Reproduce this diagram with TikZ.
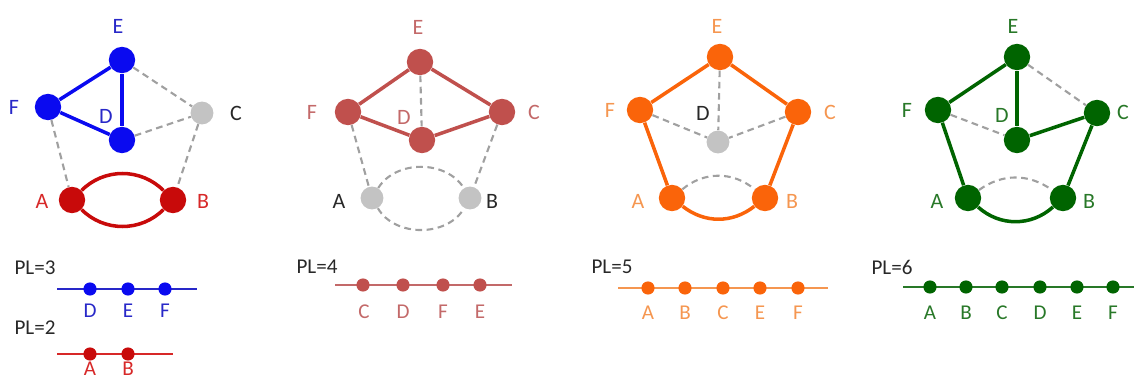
\documentclass[tikz,border=0pt]{standalone}
\usepackage{fontspec}
\setmainfont{Carlito}
\definecolor{cblue}{RGB}{10,10,240}
\definecolor{cbluel}{RGB}{40,40,200}
\definecolor{cred}{RGB}{200,10,10}
\definecolor{credl}{RGB}{215,40,40}
\definecolor{cgray}{RGB}{195,195,195}
\definecolor{cdash}{RGB}{160,160,160}
\definecolor{cbrick}{RGB}{192,80,77}
\definecolor{cbrickl}{RGB}{195,105,105}
\definecolor{corange}{RGB}{250,100,10}
\definecolor{corangel}{RGB}{245,150,80}
\definecolor{cgreen}{RGB}{0,100,0}
\definecolor{cgreenl}{RGB}{40,120,40}
\definecolor{ctext}{RGB}{40,40,40}
\tikzset{
  vtx/.style={circle,fill=#1,inner sep=0pt,minimum size=15pt},
  gvtx/.style={circle,fill=cgray,inner sep=0pt,minimum size=13pt},
  lbl/.style={text=#1,font=\fontsize{12.5pt}{14pt}\selectfont,inner sep=0pt},
  sedge/.style={draw=#1,line width=2pt},
  dedge/.style={draw=cdash,line width=1.2pt,dash pattern=on 3.8pt off 2.6pt},
  dot/.style={circle,fill=#1,inner sep=0pt,minimum size=7.5pt},
  pl/.style={text=ctext,font=\fontsize{12pt}{13pt}\selectfont,inner sep=0pt},
  bl/.style={text=#1,font=\fontsize{12pt}{13pt}\selectfont,inner sep=0pt},
  bline/.style={draw=#1,line width=1.7pt}
}
\begin{document}
\begin{tikzpicture}[x=0.02cm,y=-0.02cm]
\useasboundingbox (0,0) rectangle (1134,381);
% ---------- Panel 1 ----------
\node[vtx=cblue] (E1) at (122,60) {};
\node[vtx=cblue] (F1) at (48,107) {};
\node[vtx=cblue] (D1) at (122,140) {};
\node[gvtx] (C1) at (202,113) {};
\node[vtx=cred] (A1) at (72,200) {};
\node[vtx=cred] (B1) at (173,200) {};
\node[lbl=cbluel] (lE1) at (118,26) {E};
\node[lbl=cbluel] (lF1) at (14,107) {F};
\node[lbl=cbluel] (lD1) at (106,116) {D};
\node[lbl=ctext] (lC1) at (236,113) {C};
\node[lbl=credl] (lA1) at (42,201) {A};
\node[lbl=credl] (lB1) at (203,201) {B};
\draw[sedge=cblue] (E1) -- (F1);
\draw[sedge=cblue] (E1) -- (D1);
\draw[sedge=cblue] (F1) -- (D1);
\draw[dedge] (E1) -- (C1);
\draw[dedge] (D1) -- (C1);
\draw[dedge] (F1) -- (A1);
\draw[dedge] (C1) -- (B1);
\draw[sedge=cred] (A1) to[bend left=45] (B1);
\draw[sedge=cred] (A1) to[bend right=45] (B1);
% ---------- Panel 2 ----------
\node[vtx=cbrick] (E2) at (420,62) {};
\node[vtx=cbrick] (F2) at (348,112) {};
\node[vtx=cbrick] (D2) at (422,140) {};
\node[vtx=cbrick] (C2) at (502,112) {};
\node[gvtx] (A2) at (372,198) {};
\node[gvtx] (B2) at (470,198) {};
\node[lbl=cbrickl] (lE2) at (418,27) {E};
\node[lbl=cbrickl] (lF2) at (312,112) {F};
\node[lbl=cbrickl] (lD2) at (404,117) {D};
\node[lbl=cbrickl] (lC2) at (534,112) {C};
\node[lbl=ctext] (lA2) at (339,201) {A};
\node[lbl=ctext] (lB2) at (492,201) {B};
\draw[sedge=cbrick] (E2) -- (F2);
\draw[sedge=cbrick] (F2) -- (D2);
\draw[sedge=cbrick] (D2) -- (C2);
\draw[sedge=cbrick] (C2) -- (E2);
\draw[dedge] (E2) -- (D2);
\draw[dedge] (F2) -- (A2);
\draw[dedge] (C2) -- (B2);
\draw[dedge] (A2) to[bend left=58] (B2);
\draw[dedge] (A2) to[bend right=60] (B2);
% ---------- Panel 3 ----------
\node[vtx=corange] (E3) at (720,57) {};
\node[vtx=corange] (F3) at (640,110) {};
\node[gvtx] (D3) at (718,142) {};
\node[vtx=corange] (C3) at (798,112) {};
\node[vtx=corange] (A3) at (672,198) {};
\node[vtx=corange] (B3) at (765,198) {};
\node[lbl=corangel] (lE3) at (717,26) {E};
\node[lbl=corangel] (lF3) at (610,110) {F};
\node[lbl=ctext] (lD3) at (703,113) {D};
\node[lbl=corangel] (lC3) at (830,112) {C};
\node[lbl=corangel] (lA3) at (638,201) {A};
\node[lbl=corangel] (lB3) at (792,201) {B};
\draw[sedge=corange] (E3) -- (F3);
\draw[sedge=corange] (E3) -- (C3);
\draw[sedge=corange] (F3) -- (A3);
\draw[sedge=corange] (C3) -- (B3);
\draw[sedge=corange] (A3) to[bend right=38] (B3);
\draw[dedge] (E3) -- (D3);
\draw[dedge] (F3) -- (D3);
\draw[dedge] (C3) -- (D3);
\draw[dedge] (A3) to[bend left=40] (B3);
% ---------- Panel 4 ----------
\node[vtx=cgreen] (E4) at (1017,57) {};
\node[vtx=cgreen] (F4) at (938,110) {};
\node[vtx=cgreen] (D4) at (1017,140) {};
\node[vtx=cgreen] (C4) at (1097,113) {};
\node[vtx=cgreen] (A4) at (968,198) {};
\node[vtx=cgreen] (B4) at (1063,198) {};
\node[lbl=cgreenl] (lE4) at (1013,26) {E};
\node[lbl=cgreenl] (lF4) at (907,110) {F};
\node[lbl=cgreenl] (lD4) at (1002,115) {D};
\node[lbl=cgreenl] (lC4) at (1123,112) {C};
\node[lbl=cgreenl] (lA4) at (937,201) {A};
\node[lbl=cgreenl] (lB4) at (1089,201) {B};
\draw[sedge=cgreen] (E4) -- (F4);
\draw[sedge=cgreen] (E4) -- (D4);
\draw[sedge=cgreen] (D4) -- (C4);
\draw[sedge=cgreen] (C4) -- (B4);
\draw[sedge=cgreen] (F4) -- (A4);
\draw[sedge=cgreen] (A4) to[bend right=42] (B4);
\draw[dedge] (E4) -- (C4);
\draw[dedge] (F4) -- (D4);
\draw[dedge] (A4) to[bend left=36] (B4);
% ---------- Bottom rows ----------
% PL=3
\node[pl] (pl3) at (35,268) {PL=3};
\coordinate (s3) at (57,289);
\coordinate (t3) at (197,289);
\draw[bline=cbluel] (s3) -- (t3);
\node[dot=cblue] (d3a) at (90,289) {};
\node[dot=cblue] (d3b) at (128,289) {};
\node[dot=cblue] (d3c) at (165,289) {};
\node[bl=cbluel] at (90,311) {D};
\node[bl=cbluel] at (128,311) {E};
\node[bl=cbluel] at (165,311) {F};
% PL=2
\node[pl] (pl2) at (35,328) {PL=2};
\coordinate (s2) at (57,354);
\coordinate (t2) at (173,354);
\draw[bline=credl] (s2) -- (t2);
\node[dot=cred] (d2a) at (90,354) {};
\node[dot=cred] (d2b) at (128,354) {};
\node[bl=credl] at (90,369) {A};
\node[bl=credl] at (128,369) {B};
% PL=4
\node[pl] (pl4) at (317,267) {PL=4};
\coordinate (s4) at (335,285);
\coordinate (t4) at (512,285);
\draw[bline=cbrickl] (s4) -- (t4);
\node[dot=cbrick] at (363,285) {};
\node[dot=cbrick] at (403,285) {};
\node[dot=cbrick] at (443,285) {};
\node[dot=cbrick] at (480,285) {};
\node[bl=cbrickl] at (364,312) {C};
\node[bl=cbrickl] at (403,312) {D};
\node[bl=cbrickl] at (443,312) {F};
\node[bl=cbrickl] at (480,312) {E};
% PL=5
\node[pl] (pl5) at (612,267) {PL=5};
\coordinate (s5) at (618,288);
\coordinate (t5) at (828,288);
\draw[bline=corangel] (s5) -- (t5);
\node[dot=corange] at (648,288) {};
\node[dot=corange] at (685,288) {};
\node[dot=corange] at (723,288) {};
\node[dot=corange] at (760,288) {};
\node[dot=corange] at (798,288) {};
\node[bl=corangel] at (648,313) {A};
\node[bl=corangel] at (685,313) {B};
\node[bl=corangel] at (723,313) {C};
\node[bl=corangel] at (760,313) {E};
\node[bl=corangel] at (798,313) {F};
% PL=6
\node[pl] (pl6) at (892,267) {PL=6};
\coordinate (s6) at (903,287);
\coordinate (t6) at (1134,287);
\draw[bline=cgreenl] (s6) -- (t6);
\node[dot=cgreen] at (930,287) {};
\node[dot=cgreen] at (966,287) {};
\node[dot=cgreen] at (1002,287) {};
\node[dot=cgreen] at (1040,287) {};
\node[dot=cgreen] at (1077,287) {};
\node[dot=cgreen] at (1113,287) {};
\node[bl=cgreenl] at (930,313) {A};
\node[bl=cgreenl] at (966,313) {B};
\node[bl=cgreenl] at (1002,313) {C};
\node[bl=cgreenl] at (1040,313) {D};
\node[bl=cgreenl] at (1077,313) {E};
\node[bl=cgreenl] at (1113,313) {F};
\end{tikzpicture}
\end{document}
